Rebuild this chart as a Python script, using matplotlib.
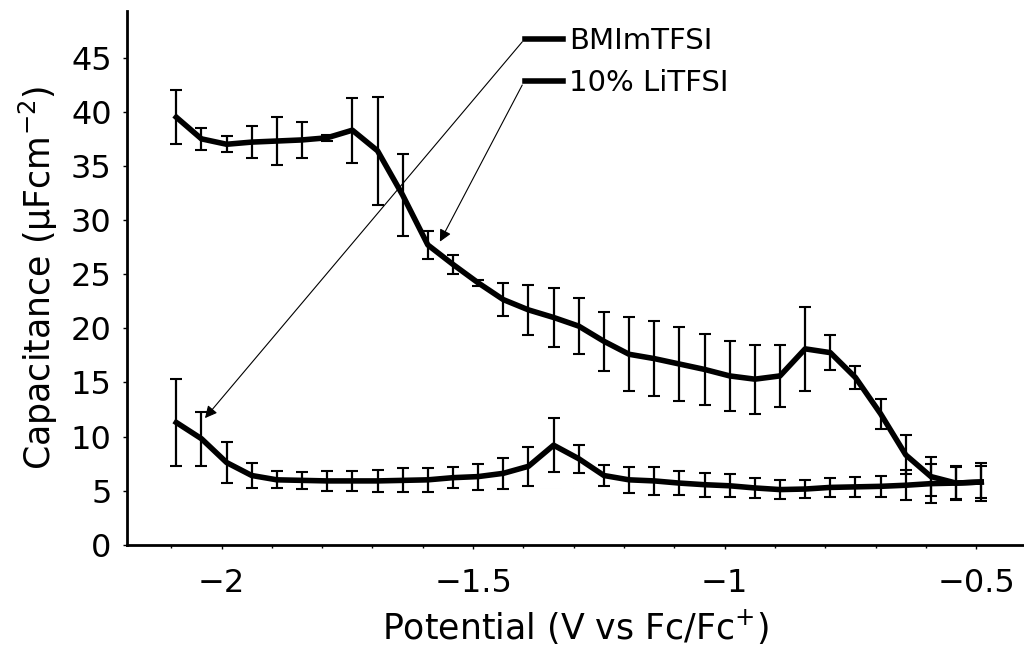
import matplotlib.pyplot as plt
from matplotlib.ticker import MultipleLocator

# Potencial de cada punto (V vs Fc/Fc+)
potencial = [-2.09, -2.04, -1.99, -1.94, -1.89, -1.84, -1.79, -1.74, -1.69, -1.64,
             -1.59, -1.54, -1.49, -1.44, -1.39, -1.34, -1.29, -1.24, -1.19, -1.14,
             -1.09, -1.04, -0.99, -0.94, -0.89, -0.84, -0.79, -0.74, -0.69, -0.64,
             -0.59, -0.54, -0.49]

# BMImTFSI (curva inferior)
bmim = [11.3, 9.8, 7.6, 6.4, 6.0, 5.95, 5.9, 5.9, 5.9, 5.95,
        6.0, 6.2, 6.3, 6.6, 7.25, 9.2, 7.95, 6.4, 6.0, 5.9,
        5.7, 5.55, 5.45, 5.25, 5.1, 5.15, 5.3, 5.35, 5.4, 5.5,
        5.65, 5.7, 5.8]
bmim_err = [4.0, 2.5, 1.9, 1.15, 0.8, 0.8, 0.9, 0.9, 1.0, 1.1,
            1.1, 1.0, 1.2, 1.45, 1.8, 2.5, 1.3, 1.0, 1.2, 1.3,
            1.1, 1.1, 1.05, 0.9, 0.85, 0.85, 0.85, 0.9, 1.0, 1.4,
            1.8, 1.6, 1.5]

# 10% LiTFSI (curva superior)
litfsi = [39.5, 37.5, 37.0, 37.2, 37.3, 37.4, 37.6, 38.3, 36.4, 32.3,
          27.7, 25.9, 24.2, 22.65, 21.7, 21.0, 20.2, 18.8, 17.6, 17.2,
          16.7, 16.2, 15.6, 15.3, 15.6, 18.1, 17.75, 15.45, 12.1, 8.3,
          6.3, 5.7, 5.8]
litfsi_err = [2.5, 1.0, 0.75, 1.5, 2.2, 1.7, 0.3, 3.0, 5.0, 3.8,
              1.3, 0.9, 0.3, 1.5, 2.3, 2.7, 2.6, 2.75, 3.4, 3.5,
              3.4, 3.3, 3.2, 3.2, 2.9, 3.9, 1.6, 1.1, 1.4, 1.8,
              1.8, 1.45, 1.8]

etiquetas = ['BMImTFSI', '10% LiTFSI']
ticks_x = [-2, -1.5, -1, -0.5]
ticks_x_txt = ['\u22122', '\u22121.5', '\u22121', '\u22120.5']
ticks_y = [0, 5, 10, 15, 20, 25, 30, 35, 40, 45]


def generar_grafica():
    plt.rcParams['font.family'] = ['DejaVu Sans']
    plt.rcParams['mathtext.default'] = 'regular'

    fig = plt.figure(figsize=(10.24, 6.54), dpi=100)
    ax = fig.add_axes([0.124, 0.167, 0.876, 0.816])

    # Curvas con barras de error
    l1 = ax.errorbar(potencial, bmim, yerr=bmim_err, color='black', lw=4,
                     elinewidth=1.6, capsize=4, capthick=1.5, label=etiquetas[0])
    l2 = ax.errorbar(potencial, litfsi, yerr=litfsi_err, color='black', lw=4,
                     elinewidth=1.6, capsize=4, capthick=1.5, label=etiquetas[1])

    ax.set_xlim(-2.188, -0.405)
    ax.set_ylim(0, 49.3)
    ax.set_xticks(ticks_x)
    ax.set_xticklabels(ticks_x_txt)
    ax.set_yticks(ticks_y)
    ax.xaxis.set_minor_locator(MultipleLocator(0.1))
    ax.tick_params(axis='x', which='major', labelsize=23, length=3, width=1, pad=14)
    ax.tick_params(axis='y', which='major', labelsize=23, length=3, width=1, pad=8)
    ax.tick_params(axis='both', which='minor', length=2, width=1)

    ax.spines['top'].set_visible(False)
    ax.spines['right'].set_visible(False)
    ax.spines['left'].set_linewidth(2)
    ax.spines['bottom'].set_linewidth(2)

    ax.set_xlabel('Potential (V vs Fc/Fc$^{+}$)', fontsize=25, labelpad=6)
    ax.set_ylabel('Capacitance (\u03bcFcm$^{-2}$)', fontsize=25, labelpad=8)

    # Leyenda sin marco
    fig.legend([l1.lines[0], l2.lines[0]], etiquetas, loc='upper left',
               bbox_to_anchor=(0.513, 0.958), frameon=False, fontsize=21,
               handlelength=1.3, handletextpad=0.2, labelspacing=0.48,
               borderaxespad=0, borderpad=0)

    # Flechas desde la leyenda hasta cada curva
    ax.annotate('', xy=(-2.033, 11.7), xytext=(0.51, 0.936),
                textcoords='figure fraction',
                arrowprops=dict(arrowstyle='-|>', lw=0.8, color='black',
                                mutation_scale=18, shrinkA=0, shrinkB=0))
    ax.annotate('', xy=(-1.566, 28.0), xytext=(0.51, 0.87),
                textcoords='figure fraction',
                arrowprops=dict(arrowstyle='-|>', lw=0.8, color='black',
                                mutation_scale=18, shrinkA=0, shrinkB=0))

    plt.savefig('out.png', dpi=100)


if __name__ == "__main__":
    generar_grafica()
